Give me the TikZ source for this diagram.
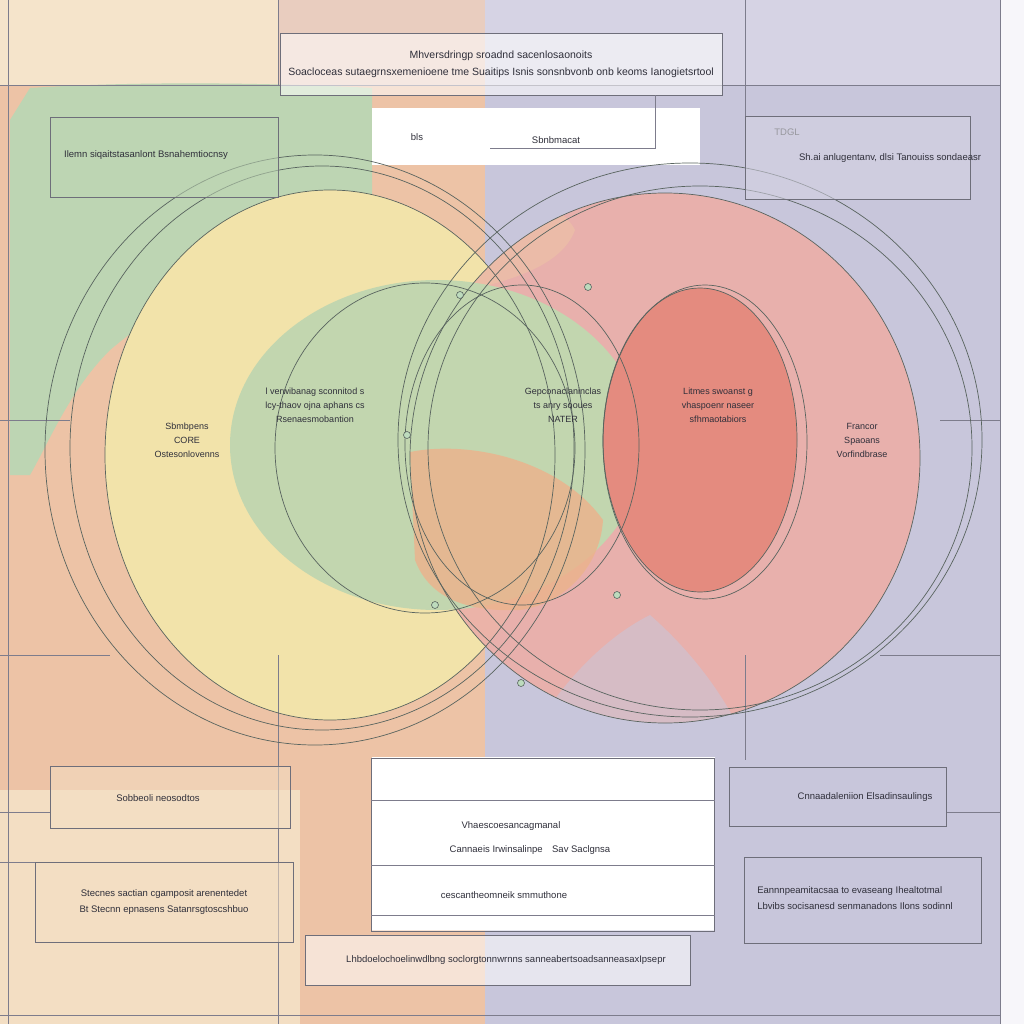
\documentclass[tikz,border=0pt]{standalone}
\usepackage{fontspec}
\setmainfont{Liberation Sans}
\begin{document}
\begin{tikzpicture}[x=1pt,y=-1pt,
  every node/.style={font=\fontsize{9.5}{13.5}\selectfont, text=txt, align=center, inner sep=0pt},
  box/.style={draw=boxline, line width=0.8pt, fill=#1, fill opacity=0.55, text opacity=1},
  box/.default=white,
  ring/.style={draw=ringline, line width=0.7pt},
  grid/.style={draw=gridline, line width=0.7pt},
  dot/.style={circle, draw=ringline, fill=green!30!gray!40, minimum size=7pt, line width=0.6pt},
  lbl/.style={font=\fontsize{9}{14}\selectfont}
]
\definecolor{txt}{HTML}{2F2F3A}
\definecolor{boxline}{HTML}{6E6E7A}
\definecolor{ringline}{HTML}{59645F}
\definecolor{gridline}{HTML}{7D7C8C}
\definecolor{peachTop}{HTML}{F5E4CB}
\definecolor{salmon}{HTML}{E9CDBF}
\definecolor{lavTop}{HTML}{D6D3E4}
\definecolor{greenBg}{HTML}{BDD5B3}
\definecolor{orangeBg}{HTML}{EDC3A6}
\definecolor{creamBg}{HTML}{F3DEC3}
\definecolor{lav}{HTML}{C8C6DB}
\definecolor{yel}{HTML}{F2E3AA}
\definecolor{pink}{HTML}{EBAFA8}
\definecolor{redIn}{HTML}{E48B7F}
\definecolor{greenIn}{HTML}{C2D6AF}
\definecolor{lens}{HTML}{EBB38D}
\useasboundingbox (0,0) rectangle (1024,1024);
% ---------- backgrounds ----------
\fill[lav] (0,0) rectangle (1024,1024);
\fill[orangeBg] (0,0) rectangle (485,1024);
\fill[creamBg] (0,790) rectangle (300,1024);
\fill[peachTop] (0,0) rectangle (278,85);
\fill[salmon] (278,0) rectangle (485,85);
\fill[lavTop] (485,0) rectangle (1000,85);
\fill[lav] (485,85) rectangle (1000,1024);
\fill[white!85!lav] (1000,0) rectangle (1024,1024);
\fill[greenBg] (30,88) .. controls (150,80) and (300,84) .. (372,88)
  -- (372,240) .. controls (250,250) and (170,300) .. (110,350)
  .. controls (70,390) and (50,440) .. (30,475) -- (10,475) -- (10,120) -- cycle;
\fill[white] (372,108) rectangle (700,165);
\fill[white] (372,757) rectangle (715,930);
% ---------- big filled circles ----------
\fill[yel] (330,455) ellipse [x radius=225, y radius=265];
\fill[pink, opacity=0.92] (665,458) ellipse [x radius=255, y radius=265];
\begin{scope}
  \clip (665,458) ellipse [x radius=255, y radius=265];
  \fill[orangeBg, opacity=0.6] (420,190) .. controls (500,180) and (560,200) .. (575,230)
    .. controls (560,270) and (500,285) .. (420,300) -- cycle;
  \fill[lav, opacity=0.55] (540,720) .. controls (580,660) and (620,630) .. (650,615)
    .. controls (690,650) and (720,690) .. (740,730) -- cycle;
\end{scope}
\fill[greenIn] (437,445) ellipse [x radius=207, y radius=165];
\fill[lens, opacity=0.85] (410,452) .. controls (470,440) and (560,460) .. (603,520)
  .. controls (600,570) and (560,605) .. (520,610)
  .. controls (470,612) and (430,600) .. (415,560) -- cycle;
\fill[redIn] (700,440) ellipse [x radius=97, y radius=152];
% ---------- grid lines ----------
\draw[grid] (8,0) -- (8,1024);
\draw[grid] (1000,0) -- (1000,1024);
\draw[grid] (278,0) -- (278,85);
\draw[grid] (745,0) -- (745,117);
\draw[grid] (0,85) -- (1000,85);
\draw[grid] (0,420) -- (70,420);
\draw[grid] (940,420) -- (1000,420);
\draw[grid] (0,655) -- (110,655);
\draw[grid] (880,655) -- (1000,655);
\draw[grid] (278,655) -- (278,1024);
\draw[grid] (745,655) -- (745,760);
\draw[grid] (0,812) -- (50,812);
\draw[grid] (0,862) -- (35,862);
\draw[grid] (947,812) -- (1000,812);
\draw[grid] (0,1015) -- (1000,1015);
% ---------- rings ----------
\draw[ring] (315,450) ellipse [x radius=270, y radius=295];
\draw[ring] (322,448) ellipse [x radius=252, y radius=282];
\draw[ring] (330,455) ellipse [x radius=225, y radius=265];
\draw[ring] (425,448) ellipse [x radius=150, y radius=165];
\draw[ring] (522,445) ellipse [x radius=117, y radius=160];
\draw[ring] (665,458) ellipse [x radius=255, y radius=265];
\draw[ring] (690,440) ellipse [x radius=292, y radius=277];
\draw[ring] (700,448) ellipse [x radius=272, y radius=262];
\draw[ring] (700,440) ellipse [x radius=97, y radius=152];
\draw[ring] (705,442) ellipse [x radius=102, y radius=157];
\node[dot] (d1) at (460,295) {};
\node[dot] (d2) at (588,287) {};
\node[dot] (d3) at (407,435) {};
\node[dot] (d4) at (435,605) {};
\node[dot] (d5) at (617,595) {};
\node[dot] (d6) at (521,683) {};
% ---------- boxes ----------
\node[box, font=\fontsize{10.5}{15}\selectfont] (top) at (501,64) [minimum width=442pt, minimum height=62pt]
  {Mhversdringp sroadnd sacenlosaonoits\\[2pt]
   Soacloceas sutaegrnsxemenioene tme Suaitips Isnis sonsnbvonb onb keoms Ianogietsrtool};
\node (sub) at (556,140) {Sbnbmacat};
\node (subb) at (417,137) {bls};
\coordinate (sc) at (490,148);
\coordinate (sk) at (655,148);
\draw[grid] (sc) -- (sk) -- (sk |- top.south);
\node[box=greenBg] (lbox) at (164,157) [minimum width=228pt, minimum height=80pt] {};
\node at (146,155) {Ilemn siqaitstasanlont Bsnahemtiocnsy};
\node[box=lavTop] (rbox) at (858,158) [minimum width=225pt, minimum height=83pt] {};
\node at (890,158) {Sh.ai anlugentanv, dlsi Tanouiss sondaeasr};
\node[text=txt!50] at (787,132) {TDGL};
\node[box=creamBg] (bl1) at (170,797) [minimum width=240pt, minimum height=62pt] {};
\node at (158,798) {Sobbeoli neosodtos};
\node[box=creamBg] (bl2) at (164,902) [minimum width=258pt, minimum height=80pt]
  {Stecnes sactian cgamposit arenentedet\\[2pt]
   Bt Stecnn epnasens Satanrsgtoscshbuo};
\node[box=lav] (br1) at (838,797) [minimum width=217pt, minimum height=59pt] {};
\node at (865,797) {Cnnaadaleniion Elsadinsaulings};
\node[box=lav] (br2) at (863,900) [minimum width=237pt, minimum height=86pt] {};
\node[align=left] at (855,898) {Eannnpeamitacsaa to evaseang Ihealtotmal\\[2pt]
   Lbvibs socisanesd senmanadons Ilons sodinnl};
\node[box=white] (bc) at (543,845) [minimum width=343pt, minimum height=173pt] {};
\draw[grid] (bc.west |- 0,800) -- (bc.east |- 0,800);
\draw[grid] (bc.west |- 0,865) -- (bc.east |- 0,865);
\draw[grid] (bc.west |- 0,915) -- (bc.east |- 0,915);
\node at (511,826) {Vhaescoesancagmanal};
\node at (530,850) {Cannaeis Irwinsalinpe\quad Sav Saclgnsa};
\node at (504,895) {cescantheomneik smmuthone};
\node[box=white] (bw) at (498,960) [minimum width=385pt, minimum height=50pt] {};
\node at (506,960) {Lhbdoelochoelinwdlbng soclorgtonnwrnns sanneabertsoadsanneasaxIpsepr};
% ---------- circle labels ----------
\node[lbl] (c1) at (187,440) {Sbmbpens\\CORE\\Ostesonlovenns};
\node[lbl] (c2) at (315,405) {l verwibanag sconnitod s\\lcy-thaov ojna aphans cs\\Rsenaesmobantion};
\node[lbl] (c3) at (563,405) {Gepconaclaninclas\\ts anry sooues\\NATER};
\node[lbl] (c4) at (718,405) {Litmes swoanst g\\vhaspoenr naseer\\sfhmaotabiors};
\node[lbl] (c5) at (862,440) {Francor\\Spaoans\\Vorfindbrase};
\end{tikzpicture}
\end{document}
